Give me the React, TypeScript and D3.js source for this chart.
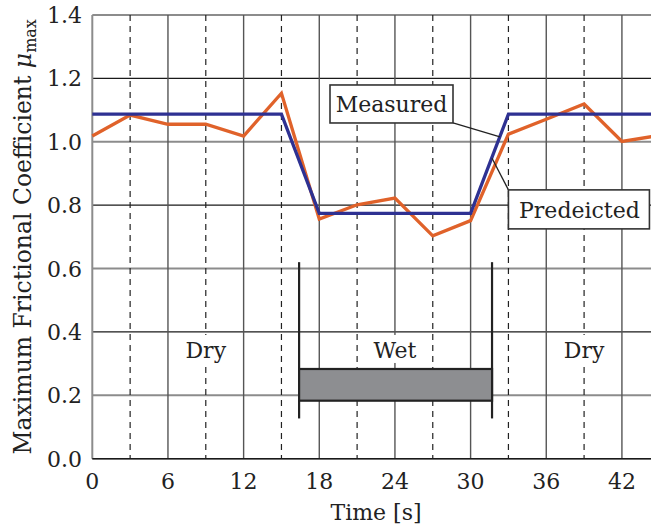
import React from 'react';
import * as d3 from 'd3';

// time samples (s) and friction values
const times = [0, 3, 6, 9, 12, 15, 18, 21, 24, 27, 30, 33, 36, 39, 42, 45];
const predicted = [1.018, 1.084, 1.055, 1.055, 1.018, 1.153, 0.756, 0.801, 0.822, 0.703, 0.751, 1.024, 1.071, 1.119, 1.001, 1.02];
const measuredTimes = [0, 15, 18, 30, 33, 45];
const measured = [1.087, 1.087, 0.774, 0.774, 1.087, 1.087];

const xTicks = [0, 6, 12, 18, 24, 30, 36, 42];
const xDashed = [3, 9, 15, 21, 27, 33, 39, 45];
const yTicks = [0, 0.2, 0.4, 0.6, 0.8, 1.0, 1.2, 1.4];

const regions = [
  { label: 'Dry', t: 9 },
  { label: 'Wet', t: 24 },
  { label: 'Dry', t: 39 },
];
const wetSpan = [16.4, 31.7];

const W = 651;
const H = 526;
const FONT = 'DejaVu Serif';
const FS = 22;

const App = () => {
  const x = d3.scaleLinear().domain([0, 45]).range([92.3, 92.3 + 45 * 12.61]);
  const y = d3.scaleLinear().domain([0, 1.4]).range([458.7, 14.9]);

  const line = d3
    .line<number>()
    .x((_, i) => x(times[i]))
    .y((d) => y(d));
  const mLine = d3
    .line<number>()
    .x((_, i) => x(measuredTimes[i]))
    .y((d) => y(d));

  const left = x(0);
  const right = W;
  const top = y(1.4);
  const bottom = y(0);

  return (
    <svg
      width={W}
      height={H}
      fontFamily={FONT}
      style={{ position: 'absolute', left: 0, top: 0, display: 'block', background: '#fff' }}
    >
      {/* horizontal grid: alternate grey / black */}
      {yTicks.map((t, i) => (
        <line
          key={'h' + i}
          x1={left}
          x2={right}
          y1={y(t)}
          y2={y(t)}
          stroke={i % 2 === 1 ? '#8c8c8c' : '#1a1a1a'}
          strokeWidth={i % 2 === 1 ? 2 : 1.3}
        />
      ))}
      {/* vertical grid */}
      {xDashed.map((t) => (
        <line
          key={'d' + t}
          x1={x(t)}
          x2={x(t)}
          y1={top}
          y2={bottom}
          stroke="#222"
          strokeWidth={1.2}
          strokeDasharray="6,5"
        />
      ))}
      {xTicks.map((t) => (
        <line
          key={'v' + t}
          x1={x(t)}
          x2={x(t)}
          y1={top}
          y2={bottom}
          stroke={t === 0 ? '#8c8c8c' : '#555'}
          strokeWidth={t === 0 ? 2 : 1.4}
        />
      ))}
      <line x1={left} x2={right} y1={bottom} y2={bottom} stroke="#1a1a1a" strokeWidth={1.5} />

      {/* wet bracket */}
      {wetSpan.map((t) => (
        <line key={'b' + t} x1={x(t)} x2={x(t)} y1={y(0.62)} y2={y(0.127)} stroke="#222" strokeWidth={2.2} />
      ))}
      <rect
        x={x(wetSpan[0])}
        y={y(0.283)}
        width={x(wetSpan[1]) - x(wetSpan[0])}
        height={y(0.183) - y(0.283)}
        fill="#8d8e91"
        stroke="#222"
        strokeWidth={2.2}
      />

      {regions.map((r, i) => (
        <g key={'r' + i}>
          <rect x={x(r.t) - 27} y={y(0.343) - 15} width={54} height={28} fill="#fff" />
          <text x={x(r.t)} y={y(0.343) + 8} textAnchor="middle" fontFamily={FONT} fontSize={FS} fill="#222">
            {r.label}
          </text>
        </g>
      ))}

      <path d={line(predicted) || ''} fill="none" stroke="#e0622a" strokeWidth={3.3} />
      <path d={mLine(measured) || ''} fill="none" stroke="#2e3192" strokeWidth={3.3} />

      {/* callouts */}
      <line x1={453} y1={y(1.119) + 19} x2={x(32.33)} y2={y(1.015)} stroke="#222" strokeWidth={1.3} />
      <rect x={330} y={y(1.119) - 19} width={123} height={38} fill="#fff" stroke="#333" strokeWidth={1.6} />
      <text x={391.5} y={y(1.119) + 8} textAnchor="middle" fontFamily={FONT} fontSize={FS} fill="#222">
        Measured
      </text>
      <line x1={x(33)} y1={y(0.848)} x2={x(31.7)} y2={y(0.948)} stroke="#222" strokeWidth={1.3} />
      <rect x={x(33)} y={y(0.848)} width={141} height={39} fill="#fff" stroke="#333" strokeWidth={1.6} />
      <text x={x(33) + 71} y={y(0.786) + 8} textAnchor="middle" fontFamily={FONT} fontSize={FS} fill="#222">
        Predeicted
      </text>

      {/* axes labels */}
      {xTicks.map((t) => (
        <text key={'xt' + t} x={x(t)} y={489} textAnchor="middle" fontFamily={FONT} fontSize={FS} fill="#222">
          {t}
        </text>
      ))}
      {yTicks.map((t) => (
        <text key={'yt' + t} x={82} y={y(t) + 8} textAnchor="end" fontFamily={FONT} fontSize={FS} fill="#222">
          {t.toFixed(1)}
        </text>
      ))}
      <text x={376} y={520} textAnchor="middle" fontFamily={FONT} fontSize={FS} fill="#222">
        Time [s]
      </text>
      <text
        transform={`translate(31, ${(top + bottom) / 2}) rotate(-90)`}
        textAnchor="middle"
        fontFamily={FONT}
        fontSize={23.5}
        fill="#222"
      >
        Maximum Frictional Coefficient{' '}
        <tspan fontStyle="italic">μ</tspan>
        <tspan fontSize={16} dy={5}>max</tspan>
      </text>
    </svg>
  );
};

export default App;
